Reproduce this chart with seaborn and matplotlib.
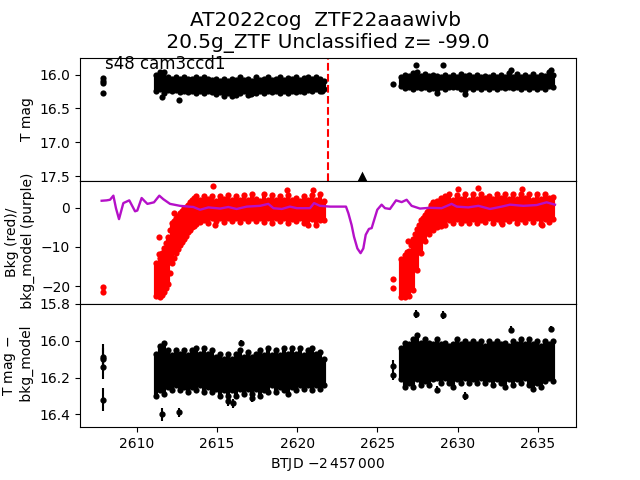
import matplotlib
matplotlib.use('Agg')
import matplotlib.pyplot as plt
import seaborn as sns

# Epochs of the two sectors' orbits
x1 = [2611.2, 2611.45, 2611.7, 2611.95, 2612.2, 2612.45, 2612.7, 2612.95, 2613.2, 2613.45, 2613.7,
      2613.95, 2614.2, 2614.45, 2614.7, 2614.95, 2615.2, 2615.45, 2615.7, 2615.95, 2616.2, 2616.45,
      2616.7, 2616.95, 2617.2, 2617.45, 2617.7, 2617.95, 2618.2, 2618.45, 2618.7, 2618.95, 2619.2,
      2619.45, 2619.7, 2619.95, 2620.2, 2620.45, 2620.7, 2620.95, 2621.2, 2621.45, 2621.65]
x2 = [2626.45, 2626.7, 2626.95, 2627.2, 2627.45, 2627.7, 2627.95, 2628.2, 2628.45, 2628.7, 2628.95,
      2629.2, 2629.45, 2629.7, 2629.95, 2630.2, 2630.45, 2630.7, 2630.95, 2631.2, 2631.45, 2631.7,
      2631.95, 2632.2, 2632.45, 2632.7, 2632.95, 2633.2, 2633.45, 2633.7, 2633.95, 2634.2, 2634.45,
      2634.7, 2634.95, 2635.2, 2635.45, 2635.7, 2635.95]

# T mag band (top panel)
mag_top1 = [16.0, 15.97, 15.97, 16.03, 16.06, 16.03, 16.07, 16.03, 16.06, 16.07, 16.04, 16.07, 16.03,
            16.07, 16.08, 16.06, 16.09, 16.07, 16.09, 16.06, 16.08, 16.04, 16.08, 16.06, 16.09, 16.04,
            16.08, 16.06, 16.04, 16.08, 16.06, 16.04, 16.08, 16.05, 16.07, 16.04, 16.08, 16.05, 16.04,
            16.06, 16.04, 16.07, 16.09]
mag_bot1 = [16.24, 16.22, 16.27, 16.23, 16.25, 16.23, 16.26, 16.24, 16.26, 16.24, 16.28, 16.25, 16.28,
            16.25, 16.26, 16.29, 16.26, 16.31, 16.28, 16.31, 16.26, 16.28, 16.25, 16.3, 16.27, 16.28,
            16.24, 16.27, 16.25, 16.26, 16.24, 16.28, 16.25, 16.27, 16.25, 16.26, 16.24, 16.26, 16.23,
            16.25, 16.22, 16.24, 16.22]
mag_top2 = [16.04, 16.0, 16.02, 15.98, 15.97, 16.02, 15.99, 16.02, 16.0, 16.02, 16.03, 16.0, 16.03, 16.01,
            16.03, 15.99, 16.02, 16.0, 16.03, 16.0, 16.03, 16.02, 16.04, 16.0, 16.03, 16.0, 16.03,
            15.98, 16.03, 15.99, 16.03, 16.0, 16.04, 15.99, 16.03, 16.01, 16.02, 15.97, 16.01]
mag_bot2 = [16.17, 16.2, 16.18, 16.22, 16.18, 16.2, 16.18, 16.22, 16.2, 16.21, 16.18, 16.21, 16.18, 16.19,
            16.18, 16.21, 16.23, 16.19, 16.21, 16.19, 16.22, 16.19, 16.22, 16.19, 16.22, 16.18, 16.2, 16.18,
            16.2, 16.18, 16.21, 16.18, 16.21, 16.19, 16.22, 16.19, 16.21, 16.17, 16.18]
mag_x = [2607.92, 2607.92, 2607.92, 2607.92, 2611.6, 2612.65, 2626.0, 2627.4, 2629.1, 2628.73, 2630.47,
         2633.34, 2635.83, 2616.2, 2617.1, 2621.55]
mag_y = [16.05, 16.09, 16.12, 16.28, 16.33, 16.37, 16.14, 15.86, 15.86, 16.27, 16.29, 15.93, 15.94,
         16.3, 16.29, 16.24]

# Background (middle panel)
bkg_top1 = [-14, -12.9, -10.3, -7.4, -3.9, -2.6, -1.4, -0.1, 0.8, 2.0, 3.0, 2.0, 3.1, 2.2, 3.0, 1.8,
            3.0, 2.2, 3.3, 2.0, 2.9, 1.9, 3.3, 2.0, 3.4, 2.2, 1.8, 3.4, 2.0, 3.3, 2.0, 3.0, 2.0, 3.2,
            2.0, 2.6, 1.8, 3.0, 2.0, 3.2, 2.0, 3.4, 1.8]
bkg_bot1 = [-22.5, -22.8, -21.5, -19.5, -14, -11.5, -9.5, -8, -6.2, -5, -4.2, -3.6, -3.0, -3.8, -2.6,
            -3.4, -2.6, -3.7, -2.6, -3.3, -2.6, -3.6, -2.5, -3.5, -2.7, -3.3, -2.5, -3.6, -2.6, -3.9,
            -2.7, -3.3, -2.5, -4.0, -2.8, -3.4, -2.5, -3.8, -4.4, -2.8, -4.4, -3.0, -3.2]
bkg_top2 = [-13, -12, -11, -8, -5.5, -3.2, -1.8, -0.2, 1.5, 1.8, 2.4, 3.0, 3.4, 2.0, 3.2, 2.2, 3.4, 2.0,
            3.6, 2.2, 3.6, 2.4, 3.0, 2.2, 3.6, 2.4, 3.4, 2.2, 3.4, 2.2, 3.5, 2.4, 3.4, 2.0, 3.6, 2.2,
            3.4, 2.4, 2.8]
bkg_bot2 = [-22.7, -22.8, -22.5, -21, -16, -11.5, -8.5, -6.8, -5.8, -5, -4.6, -4.3, -3.0, -3.8, -2.8,
            -4.0, -3.0, -3.9, -2.8, -3.8, -3.0, -3.6, -2.7, -3.9, -2.8, -3.6, -2.8, -3.4, -2.6, -3.9,
            -2.8, -3.7, -2.6, -3.6, -2.6, -4.2, -2.8, -3.6, -2.8]
bkg_x = [2607.92, 2607.92, 2611.41, 2611.41, 2612.34, 2614.77, 2614.9, 2619.37, 2620.98, 2625.99, 2625.99,
         2626.92, 2630.04, 2631.29, 2632.74, 2633.99, 2635.23,
         2611.55, 2611.85, 2612.1, 2612.3, 2612.6, 2612.85, 2613.1, 2613.3, 2613.6,
         2611.6, 2611.85, 2612.1, 2612.3, 2612.6, 2612.85, 2613.1, 2613.35, 2613.6,
         2626.85, 2627.1, 2627.35, 2627.6, 2627.85, 2628.1, 2628.35,
         2626.85, 2627.1, 2627.35, 2627.6, 2627.85, 2628.1, 2628.35]
bkg_y = [-20.2, -21.5, -7.5, -11.9, -1.4, 5.6, -4.4, 4.6, 4.6, -18.3, -20.6, -8.6, 4.8, 5.0, -4.2, 4.8, -4.4,
         -11.6, -9.0, -5.6, -3.3, -2.0, -0.8, 0.3, 1.4, 2.5,
         -22.2, -20.5, -16.8, -12.8, -10.5, -8.7, -7.1, -5.6, -4.6,
         -11.2, -9.5, -6.8, -4.3, -2.5, -1.0, 0.6,
         -22.0, -18.5, -13.8, -10.0, -7.6, -6.3, -5.4]

model_x = [2607.82, 2608.13, 2608.34, 2608.55, 2608.71, 2608.9, 2609.17, 2609.38, 2609.54, 2609.9, 2610.04,
           2610.31, 2610.52, 2610.67, 2611.08, 2611.41, 2611.66, 2612.08, 2612.7, 2613.53, 2613.95, 2614.47,
           2615.2, 2615.71, 2616.23, 2616.86, 2617.69, 2618.2, 2618.52, 2619.04, 2619.55, 2619.97, 2620.8,
           2621.05, 2621.42, 2622.05, 2623.04, 2623.19, 2623.39, 2623.54, 2623.75, 2623.95, 2624.12, 2624.27,
           2624.47, 2624.64, 2624.81, 2624.99, 2625.26, 2625.47, 2625.78, 2626.16, 2626.51, 2626.82, 2627.13,
           2627.65, 2628.27, 2629.0, 2629.62, 2629.94, 2630.66, 2631.29, 2632.01, 2632.74, 2633.26, 2634.09,
           2634.92, 2635.54, 2636.06]
model_y = [1.8, 1.9, 2.05, 3.1, -0.1, -2.9, 1.2, 1.6, 1.9, -0.9, -0.7, 2.5, 1.6, 1.0, 1.4, 3.1, 2.2, 1.0,
           0.5, 0.2, -0.5, 0.1, -0.2, 0.2, -0.3, 0.3, 0.5, 1.0, -0.1, -0.3, 0.3, -0.1, -0.1, 1.2, 0.5, 0.3,
           0.3, -1.4, -4.4, -7.4, -10.4, -11.6, -10.4, -6.9, -5.4, -5.2, -2.9, -0.5, 0.8, -0.1, -0.3, 1.9,
           1.45, 2.05, 0.5, -0.2, 0.0, -0.1, 1.0, 0.3, 0.1, 0.5, -0.3, 0.3, 0.8, 0.5, 0.7, 1.4, 0.8]

# T mag - bkg_model (bottom panel), extent of points with error bars
sub_top1 = [16.07, 16.03, 16.01, 16.05, 16.08, 16.05, 16.07, 16.05, 16.08, 16.05, 16.04, 16.07, 16.04,
            16.07, 16.05, 16.09, 16.07, 16.1, 16.07, 16.1, 16.07, 16.05, 16.09, 16.06, 16.09, 16.07,
            16.05, 16.08, 16.04, 16.08, 16.05, 16.08, 16.04, 16.07, 16.04, 16.07, 16.04, 16.08, 16.05,
            16.04, 16.07, 16.06, 16.1]
sub_bot1 = [16.3, 16.27, 16.29, 16.25, 16.27, 16.24, 16.27, 16.25, 16.28, 16.25, 16.27, 16.24, 16.28,
            16.25, 16.28, 16.26, 16.3, 16.27, 16.3, 16.27, 16.3, 16.26, 16.29, 16.26, 16.29, 16.26,
            16.3, 16.27, 16.28, 16.24, 16.28, 16.25, 16.27, 16.29, 16.25, 16.27, 16.24, 16.26, 16.24,
            16.27, 16.24, 16.26, 16.24]
sub_top2 = [16.04, 16.01, 16.02, 15.99, 15.97, 16.01, 15.99, 16.01, 16.02, 15.99, 16.02, 16.01, 16.03,
            16.02, 15.99, 16.02, 16.0, 16.02, 16.0, 16.02, 16.0, 16.03, 16.0, 16.02, 16.0, 16.02, 16.01,
            16.03, 16.0, 16.02, 15.99, 16.02, 15.99, 16.02, 16.0, 16.03, 16.0, 16.02, 16.0]
sub_bot2 = [16.21, 16.25, 16.23, 16.25, 16.21, 16.24, 16.22, 16.24, 16.21, 16.2, 16.23, 16.2, 16.23,
            16.25, 16.21, 16.23, 16.2, 16.23, 16.21, 16.23, 16.2, 16.23, 16.21, 16.24, 16.21, 16.23,
            16.25, 16.21, 16.24, 16.21, 16.23, 16.2, 16.24, 16.26, 16.23, 16.25, 16.22, 16.2, 16.22]
sub_x = [2607.92, 2607.92, 2607.92, 2607.92, 2611.6, 2612.66, 2616.52, 2615.7, 2616.0, 2617.17, 2625.99,
         2625.99, 2627.38, 2629.1, 2630.48, 2628.73, 2633.34, 2635.83]
sub_y = [16.09, 16.1, 16.14, 16.32, 16.4, 16.39, 16.01, 16.33, 16.34, 16.31, 16.135, 16.185, 15.855,
         15.86, 16.3, 16.265, 15.94, 15.935]
sub_err = [0.07, 0.06, 0.07, 0.064, 0.035, 0.025, 0.015, 0.025, 0.025, 0.025, 0.03, 0.03, 0.02, 0.02,
           0.02, 0.02, 0.018, 0.018]

peak_x = [2621.9]
limit_x = [2624.05]
limit_y = [17.5]

fig, axes = plt.subplots(3, 1, figsize=(6.4, 4.8), dpi=100, sharex=True)
fig.subplots_adjust(hspace=0)
ax_mag, ax_bkg, ax_sub = axes


def draw_band(ax, x, top, bot, color):
    # dense cloud of epochs: solid extent plus round ends for the ragged edge
    ax.vlines(x, top, bot, color=color, linewidth=3)
    sns.scatterplot(x=x + x, y=top + bot, ax=ax, color=color, s=20, linewidth=0)


# Top panel
draw_band(ax_mag, x1, mag_top1, mag_bot1, 'k')
draw_band(ax_mag, x2, mag_top2, mag_bot2, 'k')
sns.scatterplot(x=mag_x, y=mag_y, ax=ax_mag, color='k', s=20, linewidth=0)
sns.scatterplot(x=limit_x, y=limit_y, ax=ax_mag, color='k', marker='^', s=50, linewidth=0)
ax_mag.axvline(peak_x[0], color='r', linestyle='--', linewidth=1.5)
ax_mag.set_ylim(17.57, 15.75)
ax_mag.set_yticks([16.0, 16.5, 17.0, 17.5])
ax_mag.set_ylabel('T mag')
ax_mag.text(2608.03, 15.98, 's48 cam3ccd1', fontsize=12, va='bottom')
ax_mag.set_title('AT2022cog  ZTF22aaawivb\n 20.5g_ZTF Unclassified z= -99.0', fontsize=14.4, pad=7, x=0.494)

# Middle panel
draw_band(ax_bkg, x1, bkg_top1, bkg_bot1, 'r')
draw_band(ax_bkg, x2, bkg_top2, bkg_bot2, 'r')
sns.scatterplot(x=bkg_x, y=bkg_y, ax=ax_bkg, color='r', s=20, linewidth=0)
sns.lineplot(x=model_x, y=model_y, ax=ax_bkg, color='#b510c8', linewidth=1.7, sort=False, estimator=None)
ax_bkg.set_ylim(-24.6, 6.9)
ax_bkg.set_yticks([0, -10, -20])
ax_bkg.set_ylabel('Bkg (red)/\n bkg_model (purple)')

# Bottom panel
draw_band(ax_sub, x1, sub_top1, sub_bot1, 'k')
draw_band(ax_sub, x2, sub_top2, sub_bot2, 'k')
ax_sub.errorbar(sub_x, sub_y, yerr=sub_err, fmt='o', color='k', markersize=3.5, elinewidth=1.5)
ax_sub.set_ylim(16.47, 15.8)
ax_sub.set_yticks([15.8, 16.0, 16.2, 16.4])
ax_sub.set_ylabel('T mag $-$\n bkg_model')

ax_sub.set_xlim(2606.47, 2637.37)
ax_sub.set_xticks([2610, 2615, 2620, 2625, 2630, 2635])
ax_sub.set_xlabel(r'BTJD $-2\,457\,000$')
ax_mag.tick_params(axis='x', bottom=False)
ax_bkg.tick_params(axis='x', bottom=False)

fig.savefig('out.png', dpi=100)
